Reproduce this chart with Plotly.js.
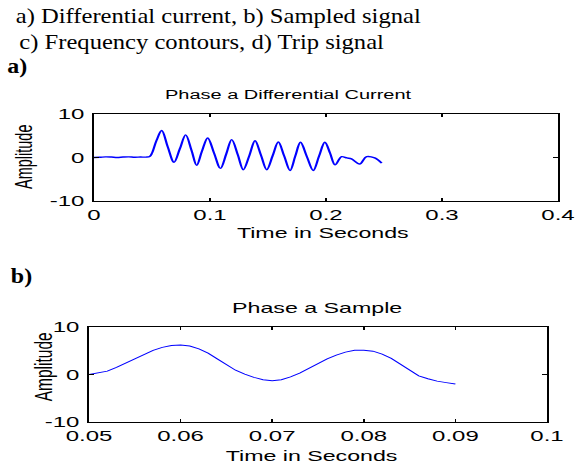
<!DOCTYPE html>
<html>
<head>
<meta charset="utf-8">
<script src="https://cdn.plot.ly/plotly-3.0.1.min.js"></script>
<style>
html,body{margin:0;padding:0;background:#fff;overflow:hidden;width:576px;height:465px;}
#chart{position:absolute;left:0;top:0;width:360px;height:465px;transform:scaleX(1.6);transform-origin:0 0;}
#head{position:absolute;left:0;top:0;width:480px;height:465px;transform:scaleX(1.2);transform-origin:0 0;pointer-events:none;}
</style>
</head>
<body>
<div id="chart"></div>
<div id="head"></div>
<script>
// ---- data ----
var timeA = [0, 0.005, 0.01, 0.015, 0.02, 0.025, 0.03, 0.035, 0.04, 0.045, 0.048, 0.05, 0.054, 0.0584, 0.0635, 0.069, 0.074, 0.079, 0.084, 0.0885, 0.093, 0.098, 0.1035, 0.109, 0.114, 0.1187, 0.124, 0.1287, 0.134, 0.1388, 0.144, 0.1489, 0.154, 0.1589, 0.164, 0.169, 0.1735, 0.178, 0.1835, 0.189, 0.194, 0.199, 0.2035, 0.2078, 0.2135, 0.218, 0.222, 0.229, 0.235, 0.242, 0.248];
var ampA  = [0, 0.05, 0.15, 0.1, 0, 0.1, 0.15, 0.05, 0.1, 0.1, 0.25, 1.0, 4.0, 6.2, 2.5, -1.1, 2.0, 5.2, 1.7, -1.8, 1.4, 4.5, 1.0, -2.5, 0.8, 4.1, 0.6, -2.8, 0.5, 3.85, 0.5, -2.8, 0.4, 3.55, 0.3, -3.0, 0.3, 3.5, 0.2, -3.0, 0.3, 3.5, 1.0, -1.7, 0.2, -0.1, -0.3, -1.5, 0.2, -0.1, -1.3];

var timeB = [0.050, 0.051, 0.052, 0.053, 0.054, 0.055, 0.056, 0.057, 0.058, 0.059, 0.060, 0.061, 0.062, 0.063, 0.064, 0.065, 0.066, 0.067, 0.068, 0.069, 0.070, 0.071, 0.072, 0.073, 0.074, 0.075, 0.076, 0.077, 0.078, 0.079, 0.080, 0.081, 0.082, 0.083, 0.084, 0.085, 0.086, 0.087, 0.088, 0.089, 0.090];
var ampB  = [0, 0.3, 0.7, 1.5, 2.4, 3.3, 4.3, 5.1, 5.7, 6.1, 6.2, 6.0, 5.4, 4.5, 3.3, 2.0, 0.9, 0.1, -0.6, -1.1, -1.3, -1.1, -0.5, 0.3, 1.3, 2.4, 3.3, 4.1, 4.7, 5.1, 5.1, 4.9, 4.3, 3.4, 2.2, 0.8, -0.3, -0.9, -1.4, -1.7, -2.0];

var xTicksA = [0, 0.1, 0.2, 0.3, 0.4];
var xTickTextA = ['0', '0.1', '0.2', '0.3', '0.4'];
var xTicksB = [0.05, 0.06, 0.07, 0.08, 0.09, 0.1];
var xTickTextB = ['0.05', '0.06', '0.07', '0.08', '0.09', '0.1'];
var yTicks = [-10, 0, 10];
var yTickText = ['-10', '0', '10'];

var titleA = 'Phase a Differential Current';
var titleB = 'Phase a Sample';
var xLabel = 'Time in Seconds';
var yLabel = 'Amplitude';
var headLine1 = 'a) Differential current, b) Sampled signal';
var headLine2 = 'c) Frequency contours, d) Trip signal';

// ---- chart ----
var W = 576, H = 465;
function fx(px){return px / W;}
function fy(py){return 1 - py / H;}
var sans = 'Liberation Sans, Arial, sans-serif';

function axisCommon(){
  return {showgrid:false, zeroline:false, showline:true, mirror:'ticks', linecolor:'#000', linewidth:1,
          ticks:'inside', ticklen:3, tickwidth:1, tickcolor:'#000',
          tickfont:{family:sans, size:15, color:'#000'}, fixedrange:true};
}

var traces = [
  {x: timeA, y: ampA, type:'scatter', mode:'lines', line:{color:'#0000ff', width:1.4, shape:'spline', smoothing:1}, xaxis:'x', yaxis:'y', hoverinfo:'skip'},
  {x: timeB, y: ampB, type:'scatter', mode:'lines', line:{color:'#0000ff', width:0.9}, xaxis:'x2', yaxis:'y2', hoverinfo:'skip'}
];

var xa = Object.assign(axisCommon(), {domain:[fx(94), fx(558)], range:[0, 0.4], tickvals:xTicksA, ticktext:xTickTextA, anchor:'y'});
var ya = Object.assign(axisCommon(), {domain:[fy(201), fy(114)], range:[-10, 10], tickvals:yTicks, ticktext:yTickText, anchor:'x', ticklabelstandoff:2});
var xb = Object.assign(axisCommon(), {domain:[fx(89), fx(547)], range:[0.05, 0.1], tickvals:xTicksB, ticktext:xTickTextB, anchor:'y2'});
var yb = Object.assign(axisCommon(), {domain:[fy(422), fy(327)], range:[-10, 10], tickvals:yTicks, ticktext:yTickText, anchor:'x2', ticklabelstandoff:2});

function ann(text, px, py, size, extra){
  return Object.assign({text:text, xref:'paper', yref:'paper', x:fx(px), y:fy(py), xanchor:'center', yanchor:'middle',
    showarrow:false, font:{family:sans, size:size, color:'#000'}}, extra || {});
}

var layout = {
  width:360, height:465, margin:{l:0, r:0, t:0, b:0}, paper_bgcolor:'#fff', plot_bgcolor:'#fff', showlegend:false,
  xaxis:xa, yaxis:ya, xaxis2:xb, yaxis2:yb,
  annotations:[
    ann(titleA, 288, 95, 12.5),
    ann(titleB, 317, 308, 14.5),
    ann(xLabel, 323, 233, 14.5),
    ann(xLabel, 311, 456, 14.5),
    ann(yLabel, 24, 157, 14.5, {textangle:-90}),
    ann(yLabel, 42, 367, 15.5, {textangle:-90})
  ]
};

Plotly.newPlot('chart', traces, layout, {staticPlot:true, displayModeBar:false});

// ---- document header text ----
var serif = 'Liberation Serif, Times New Roman, serif';
function hann(text, px, py, size, extra){
  return Object.assign({text:text, xref:'paper', yref:'paper', x:fx(px), y:fy(py), xanchor:'left', yanchor:'middle',
    showarrow:false, font:{family:serif, size:size, color:'#000'}}, extra || {});
}
var headLayout = {
  width:480, height:465, margin:{l:0, r:0, t:0, b:0}, paper_bgcolor:'rgba(0,0,0,0)', plot_bgcolor:'rgba(0,0,0,0)',
  xaxis:{visible:false}, yaxis:{visible:false}, showlegend:false,
  annotations:[
    hann(headLine1, 13, 16, 20.5),
    hann(headLine2, 17, 42, 20.5),
    hann('<b>a)</b>', 5, 66, 20),
    hann('<b>b)</b>', 8, 276, 20)
  ]
};
Plotly.newPlot('head', [], headLayout, {staticPlot:true, displayModeBar:false});
</script>
</body>
</html>
